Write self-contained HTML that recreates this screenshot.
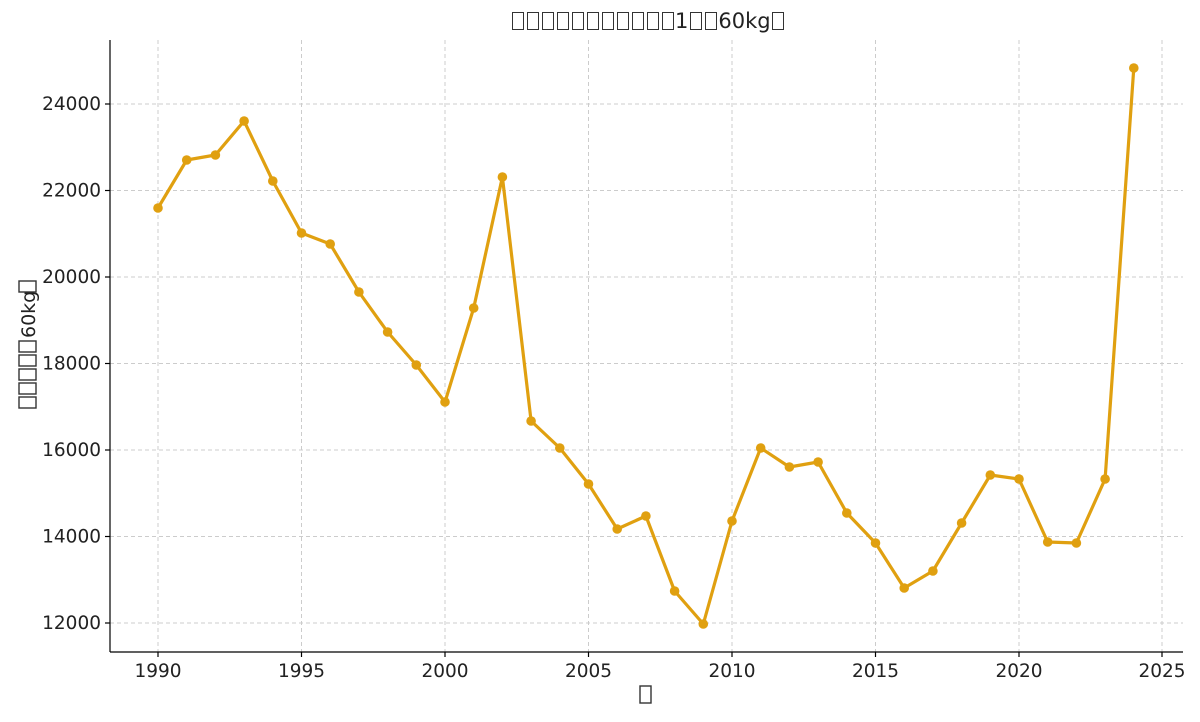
<!DOCTYPE html>
<html><head><meta charset="utf-8"><style>
body{margin:0;background:#fff;}
.b{display:inline-block;border:1.4px solid #333;box-sizing:border-box;}
.t .b{width:12px;height:18px;margin:0 1.5px;vertical-align:-2px;}
</style></head><body>
<svg width="1200" height="717" xmlns="http://www.w3.org/2000/svg" font-family="DejaVu Sans, Liberation Sans, sans-serif">
<g stroke="#ccc" stroke-dasharray="4,3" stroke-width="1">
<line x1="158" y1="40" x2="158" y2="652"/><line x1="301.5" y1="40" x2="301.5" y2="652"/><line x1="445" y1="40" x2="445" y2="652"/><line x1="588.5" y1="40" x2="588.5" y2="652"/><line x1="732" y1="40" x2="732" y2="652"/><line x1="875.5" y1="40" x2="875.5" y2="652"/><line x1="1019" y1="40" x2="1019" y2="652"/><line x1="1162" y1="40" x2="1162" y2="652"/>
<line x1="110" y1="104" x2="1183" y2="104"/><line x1="110" y1="190.5" x2="1183" y2="190.5"/><line x1="110" y1="277" x2="1183" y2="277"/><line x1="110" y1="363.5" x2="1183" y2="363.5"/><line x1="110" y1="450" x2="1183" y2="450"/><line x1="110" y1="536.5" x2="1183" y2="536.5"/><line x1="110" y1="623" x2="1183" y2="623"/>
</g>
<g stroke="#000" stroke-width="1.2">
<line x1="110" y1="40" x2="110" y2="652"/><line x1="110" y1="652" x2="1183" y2="652"/>
<line x1="158" y1="652" x2="158" y2="657"/><line x1="301.5" y1="652" x2="301.5" y2="657"/><line x1="445" y1="652" x2="445" y2="657"/><line x1="588.5" y1="652" x2="588.5" y2="657"/><line x1="732" y1="652" x2="732" y2="657"/><line x1="875.5" y1="652" x2="875.5" y2="657"/><line x1="1019" y1="652" x2="1019" y2="657"/><line x1="1162" y1="652" x2="1162" y2="657"/>
<line x1="105" y1="104" x2="110" y2="104"/><line x1="105" y1="190.5" x2="110" y2="190.5"/><line x1="105" y1="277" x2="110" y2="277"/><line x1="105" y1="363.5" x2="110" y2="363.5"/><line x1="105" y1="450" x2="110" y2="450"/><line x1="105" y1="536.5" x2="110" y2="536.5"/><line x1="105" y1="623" x2="110" y2="623"/>
</g>
<g font-size="18.5" fill="#222" text-anchor="middle">
<text x="158" y="677">1990</text><text x="301.5" y="677">1995</text><text x="445" y="677">2000</text><text x="588.5" y="677">2005</text><text x="732" y="677">2010</text><text x="875.5" y="677">2015</text><text x="1019" y="677">2020</text><text x="1162" y="677">2025</text>
</g>
<g font-size="18.5" fill="#222" text-anchor="end">
<text x="101" y="110">24000</text><text x="101" y="196.5">22000</text><text x="101" y="283">20000</text><text x="101" y="369.5">18000</text><text x="101" y="456">16000</text><text x="101" y="542.5">14000</text><text x="101" y="629">12000</text>
</g>
<rect x="640" y="686" width="11" height="17" fill="none" stroke="#333" stroke-width="1.4"/>
<g transform="translate(32,408) rotate(-90)" fill="#222" font-size="19">
<rect x="0" y="-13" width="11" height="17" fill="none" stroke="#333" stroke-width="1.4"/>
<rect x="14" y="-13" width="11" height="17" fill="none" stroke="#333" stroke-width="1.4"/>
<rect x="28" y="-13" width="11" height="17" fill="none" stroke="#333" stroke-width="1.4"/>
<rect x="42" y="-13" width="11" height="17" fill="none" stroke="#333" stroke-width="1.4"/>
<rect x="56" y="-13" width="11" height="17" fill="none" stroke="#333" stroke-width="1.4"/>
<text x="70" y="3">60kg</text>
<rect x="116" y="-13" width="11" height="17" fill="none" stroke="#333" stroke-width="1.4"/>
</g>
<polyline fill="none" stroke="#e0a010" stroke-width="3.2" stroke-linejoin="round" points="158,208 186.7,160 215.4,155 244.1,121 272.8,181 301.5,233 330.2,244 358.9,292 387.6,332 416.3,365 445,402 473.7,308 502.4,177 531.1,421 559.8,448 588.5,484 617.2,529 645.9,516 674.6,591 703.3,624 732,521 760.7,448 789.4,467 818.1,462 846.8,513 875.5,543 904.2,588 932.9,571 961.6,523 990.3,475 1019,479 1047.7,542 1076.4,543 1105.1,479 1133.8,68"/>
<g fill="#e0a010">
<circle cx="158" cy="208" r="4.8"/><circle cx="186.7" cy="160" r="4.8"/><circle cx="215.4" cy="155" r="4.8"/><circle cx="244.1" cy="121" r="4.8"/><circle cx="272.8" cy="181" r="4.8"/><circle cx="301.5" cy="233" r="4.8"/><circle cx="330.2" cy="244" r="4.8"/><circle cx="358.9" cy="292" r="4.8"/><circle cx="387.6" cy="332" r="4.8"/><circle cx="416.3" cy="365" r="4.8"/><circle cx="445" cy="402" r="4.8"/><circle cx="473.7" cy="308" r="4.8"/><circle cx="502.4" cy="177" r="4.8"/><circle cx="531.1" cy="421" r="4.8"/><circle cx="559.8" cy="448" r="4.8"/><circle cx="588.5" cy="484" r="4.8"/><circle cx="617.2" cy="529" r="4.8"/><circle cx="645.9" cy="516" r="4.8"/><circle cx="674.6" cy="591" r="4.8"/><circle cx="703.3" cy="624" r="4.8"/><circle cx="732" cy="521" r="4.8"/><circle cx="760.7" cy="448" r="4.8"/><circle cx="789.4" cy="467" r="4.8"/><circle cx="818.1" cy="462" r="4.8"/><circle cx="846.8" cy="513" r="4.8"/><circle cx="875.5" cy="543" r="4.8"/><circle cx="904.2" cy="588" r="4.8"/><circle cx="932.9" cy="571" r="4.8"/><circle cx="961.6" cy="523" r="4.8"/><circle cx="990.3" cy="475" r="4.8"/><circle cx="1019" cy="479" r="4.8"/><circle cx="1047.7" cy="542" r="4.8"/><circle cx="1076.4" cy="543" r="4.8"/><circle cx="1105.1" cy="479" r="4.8"/><circle cx="1133.8" cy="68" r="4.8"/>
</g>
</svg>
<div class="t" style="position:absolute;left:510px;top:9px;font:21px 'DejaVu Sans','Liberation Sans',sans-serif;color:#222;white-space:nowrap;"><span class="b"></span><span class="b"></span><span class="b"></span><span class="b"></span><span class="b"></span><span class="b"></span><span class="b"></span><span class="b"></span><span class="b"></span><span class="b"></span><span class="b"></span>1<span class="b"></span><span class="b"></span>60kg<span class="b"></span></div>
</body></html>
